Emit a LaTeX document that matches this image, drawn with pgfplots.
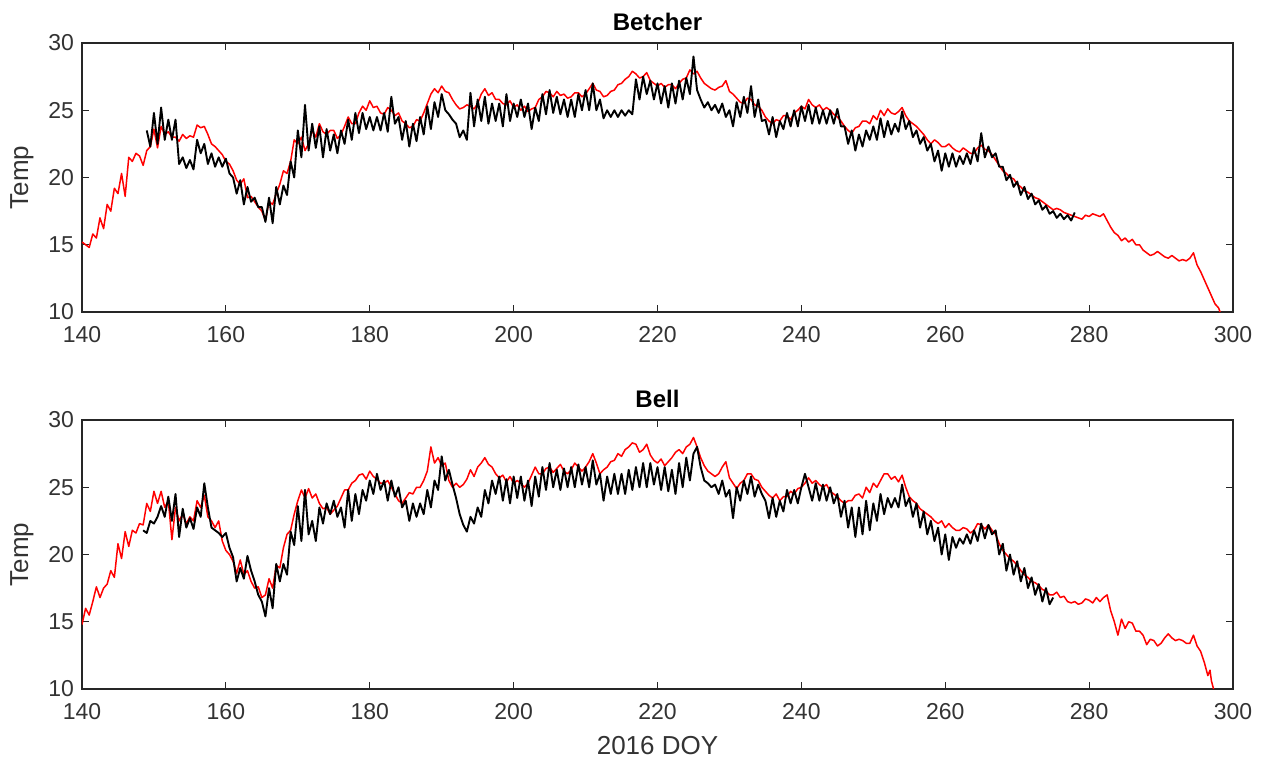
\documentclass[border=0pt]{standalone}
\usepackage{fontspec}
\setmainfont{Liberation Sans}
\usepackage{pgfplots}
\usepackage{pgfplotstable}
\pgfplotsset{compat=1.18}
\definecolor{axisgray}{HTML}{262626}
\definecolor{tickgray}{HTML}{333333}

\pgfplotstableread[row sep=\\]{
x y\\
140 15.2\\ 140.5 15.0\\ 141 14.8\\ 141.5 15.8\\ 142 15.5\\ 142.5 17.0\\ 143 16.2\\ 143.5 18.0\\ 144 17.5\\ 144.5 19.2\\
145 18.8\\ 145.5 20.3\\ 146 18.6\\ 146.5 21.5\\ 147 21.2\\ 147.5 21.8\\ 148 21.6\\ 148.5 20.9\\ 149 22.0\\ 149.5 22.3\\
150 23.6\\ 150.5 22.2\\ 151 23.8\\ 151.5 23.2\\ 152 23.4\\ 152.5 23.0\\ 153 23.0\\ 153.5 22.7\\ 154 23.2\\ 154.5 22.9\\
155 23.1\\ 155.5 23.0\\ 156 23.9\\ 156.5 23.7\\ 157 23.8\\ 157.5 23.2\\ 158 22.5\\ 158.5 22.3\\ 159 22.0\\ 159.5 21.7\\
160 21.2\\ 160.5 21.0\\ 161 20.5\\ 161.5 19.8\\ 162 19.5\\ 162.5 19.9\\ 163 18.5\\ 163.5 18.6\\ 164 18.2\\ 164.5 17.8\\
165 17.5\\ 165.5 16.8\\ 166 18.2\\ 166.5 18.0\\ 167 18.8\\ 167.5 19.5\\ 168 20.5\\ 168.5 20.3\\ 169 21.2\\ 169.5 22.8\\
170 22.5\\ 170.5 23.0\\ 171 22.0\\ 171.5 22.5\\ 172 23.5\\ 172.5 23.0\\ 173 24.0\\ 173.5 23.4\\ 174 23.2\\ 174.5 23.5\\
175 23.5\\ 175.5 22.9\\ 176 23.2\\ 176.5 23.8\\ 177 24.5\\ 177.5 24.0\\ 178 24.0\\ 178.5 24.8\\ 179 25.3\\ 179.5 25.0\\
180 25.7\\ 180.5 25.2\\ 181 25.3\\ 181.5 24.8\\ 182 24.7\\ 182.5 25.2\\ 183 25.0\\ 183.5 24.6\\ 184 24.8\\ 184.5 24.2\\
185 24.0\\ 185.5 23.7\\ 186 23.8\\ 186.5 24.3\\ 187 24.2\\ 187.5 24.8\\ 188 25.5\\ 188.5 26.2\\ 189 26.6\\ 189.5 26.3\\
190 26.8\\ 190.5 26.4\\ 191 26.3\\ 191.5 25.8\\ 192 25.4\\ 192.5 25.1\\ 193 25.2\\ 193.5 25.4\\ 194 25.3\\ 194.5 25.1\\
195 25.5\\ 195.5 26.2\\ 196 26.6\\ 196.5 26.1\\ 197 26.3\\ 197.5 25.8\\ 198 25.8\\ 198.5 25.5\\ 199 25.4\\ 199.5 25.7\\
200 25.2\\ 200.5 25.4\\ 201 25.0\\ 201.5 25.3\\ 202 24.9\\ 202.5 25.1\\ 203 25.2\\ 203.5 25.8\\ 204 26.0\\ 204.5 26.4\\
205 26.3\\ 205.5 26.0\\ 206 26.4\\ 206.5 26.1\\ 207 26.2\\ 207.5 25.9\\ 208 26.0\\ 208.5 26.3\\ 209 26.3\\ 209.5 26.0\\
210 26.2\\ 210.5 26.6\\ 211 27.0\\ 211.5 26.5\\ 212 26.4\\ 212.5 26.0\\ 213 26.1\\ 213.5 26.4\\ 214 26.5\\ 214.5 26.9\\
215 27.0\\ 215.5 27.3\\ 216 27.5\\ 216.5 27.9\\ 217 27.7\\ 217.5 27.4\\ 218 27.5\\ 218.5 27.8\\ 219 27.2\\ 219.5 27.0\\
220 26.8\\ 220.5 27.0\\ 221 26.7\\ 221.5 26.9\\ 222 26.9\\ 222.5 26.6\\ 223 27.0\\ 223.5 27.3\\ 224 27.4\\ 224.5 28.0\\
225 27.7\\ 225.5 27.9\\ 226 27.4\\ 226.5 27.0\\ 227 26.8\\ 227.5 26.6\\ 228 26.5\\ 228.5 26.7\\ 229 26.8\\ 229.5 27.2\\
230 26.4\\ 230.5 26.2\\ 231 25.9\\ 231.5 25.6\\ 232 25.5\\ 232.5 25.9\\ 233 25.8\\ 233.5 25.4\\ 234 25.3\\ 234.5 25.0\\
235 24.5\\ 235.5 24.2\\ 236 24.0\\ 236.5 24.3\\ 237 24.2\\ 237.5 24.6\\ 238 24.6\\ 238.5 24.3\\ 239 24.8\\ 239.5 25.0\\
240 25.3\\ 240.5 25.1\\ 241 25.8\\ 241.5 25.4\\ 242 25.2\\ 242.5 25.4\\ 243 25.0\\ 243.5 25.2\\ 244 25.0\\ 244.5 24.7\\
245 24.5\\ 245.5 24.2\\ 246 23.8\\ 246.5 23.5\\ 247 23.3\\ 247.5 23.7\\ 248 23.8\\ 248.5 24.2\\ 249 24.2\\ 249.5 24.0\\
250 24.6\\ 250.5 24.3\\ 251 25.0\\ 251.5 24.6\\ 252 25.1\\ 252.5 24.8\\ 253 24.7\\ 253.5 24.9\\ 254 25.2\\ 254.5 24.6\\
255 24.2\\ 255.5 24.0\\ 256 23.8\\ 256.5 23.5\\ 257 23.2\\ 257.5 22.8\\ 258 22.5\\ 258.5 22.8\\ 259 22.6\\ 259.5 22.3\\
260 22.3\\ 260.5 22.5\\ 261 22.2\\ 261.5 22.0\\ 262 21.9\\ 262.5 22.2\\ 263 22.0\\ 263.5 21.8\\ 264 21.8\\ 264.5 22.2\\
265 22.4\\ 265.5 22.1\\ 266 22.0\\ 266.5 21.7\\ 267 21.3\\ 267.5 20.9\\ 268 20.5\\ 268.5 20.3\\ 269 20.0\\ 269.5 19.9\\
270 19.5\\ 270.5 19.3\\ 271 19.0\\ 271.5 18.9\\ 272 18.7\\ 272.5 18.5\\ 273 18.4\\ 273.5 18.2\\ 274 18.0\\ 274.5 17.8\\
275 17.6\\ 275.5 17.7\\ 276 17.6\\ 276.5 17.4\\ 277 17.3\\ 277.5 17.2\\ 278 17.1\\ 278.5 17.0\\ 279 16.9\\ 279.5 17.2\\
280 17.1\\ 280.5 17.3\\ 281 17.2\\ 281.5 17.1\\ 282 17.3\\ 282.5 16.8\\ 283 16.3\\ 283.5 15.9\\ 284 15.7\\ 284.5 15.3\\
285 15.5\\ 285.5 15.2\\ 286 15.4\\ 286.5 15.0\\ 287 15.0\\ 287.5 14.6\\ 288 14.4\\ 288.5 14.2\\ 289 14.3\\ 289.5 14.5\\
290 14.3\\ 290.5 14.1\\ 291 14.0\\ 291.5 14.2\\ 292 14.0\\ 292.5 13.8\\ 293 13.9\\ 293.5 13.8\\ 294 14.0\\ 294.5 14.4\\
295 13.5\\ 295.5 13.0\\ 296 12.4\\ 296.5 11.8\\ 297 11.2\\ 297.5 10.6\\ 298 10.3\\ 298.2 10.0\\
}\betcherred

\pgfplotstableread[row sep=\\]{
x y\\
149 23.5\\ 149.5 22.3\\ 150 24.8\\ 150.5 22.5\\ 151 25.2\\ 151.5 22.8\\ 152 24.3\\ 152.5 22.8\\ 153 24.3\\ 153.5 21.0\\
154 21.5\\ 154.5 20.7\\ 155 21.3\\ 155.5 20.6\\ 156 22.8\\ 156.5 21.8\\ 157 22.5\\ 157.5 21.0\\ 158 21.8\\ 158.5 20.8\\
159 21.5\\ 159.5 20.8\\ 160 21.4\\ 160.5 20.3\\ 161 20.0\\ 161.5 18.8\\ 162 19.8\\ 162.5 18.0\\ 163 19.3\\ 163.5 18.2\\
164 18.5\\ 164.5 17.8\\ 165 17.8\\ 165.5 16.7\\ 166 18.5\\ 166.5 16.6\\ 167 19.3\\ 167.5 18.0\\ 168 19.4\\ 168.5 18.7\\
169 21.2\\ 169.5 20.0\\ 170 23.5\\ 170.5 21.5\\ 171 25.4\\ 171.5 22.0\\ 172 24.0\\ 172.5 22.2\\ 173 23.8\\ 173.5 21.5\\
174 23.6\\ 174.5 22.0\\ 175 23.2\\ 175.5 21.8\\ 176 23.5\\ 176.5 22.5\\ 177 24.3\\ 177.5 22.8\\ 178 24.8\\ 178.5 23.3\\
179 24.8\\ 179.5 23.6\\ 180 24.5\\ 180.5 23.5\\ 181 24.5\\ 181.5 23.5\\ 182 24.8\\ 182.5 23.4\\ 183 26.0\\ 183.5 24.0\\
184 24.5\\ 184.5 22.8\\ 185 24.2\\ 185.5 22.3\\ 186 24.0\\ 186.5 22.7\\ 187 24.5\\ 187.5 23.2\\ 188 25.3\\ 188.5 23.6\\
189 25.6\\ 189.5 24.5\\ 190 26.2\\ 190.5 25.0\\ 191 24.7\\ 191.5 24.3\\ 192 24.0\\ 192.5 23.0\\ 193 23.5\\ 193.5 22.8\\
194 26.3\\ 194.5 23.8\\ 195 25.8\\ 195.5 24.2\\ 196 26.0\\ 196.5 24.0\\ 197 25.5\\ 197.5 24.2\\ 198 25.5\\ 198.5 23.8\\
199 26.2\\ 199.5 24.2\\ 200 25.5\\ 200.5 24.5\\ 201 25.8\\ 201.5 24.5\\ 202 25.5\\ 202.5 23.6\\ 203 25.2\\ 203.5 24.2\\
204 26.2\\ 204.5 24.7\\ 205 26.5\\ 205.5 24.8\\ 206 26.0\\ 206.5 24.7\\ 207 25.8\\ 207.5 24.5\\ 208 25.8\\ 208.5 24.5\\
209 26.2\\ 209.5 25.0\\ 210 26.5\\ 210.5 25.0\\ 211 27.0\\ 211.5 25.0\\ 212 25.8\\ 212.5 24.4\\ 213 25.0\\ 213.5 24.5\\
214 25.0\\ 214.5 24.5\\ 215 25.0\\ 215.5 24.6\\ 216 25.0\\ 216.5 24.7\\ 217 27.3\\ 217.5 25.8\\ 218 27.5\\ 218.5 26.2\\
219 27.2\\ 219.5 25.8\\ 220 27.0\\ 220.5 25.5\\ 221 26.8\\ 221.5 25.2\\ 222 27.0\\ 222.5 25.5\\ 223 27.2\\ 223.5 25.8\\
224 27.4\\ 224.5 26.2\\ 225 29.0\\ 225.5 26.5\\ 226 25.8\\ 226.5 25.2\\ 227 25.6\\ 227.5 25.0\\ 228 25.4\\ 228.5 24.8\\
229 25.5\\ 229.5 24.5\\ 230 25.0\\ 230.5 23.8\\ 231 25.6\\ 231.5 24.5\\ 232 26.0\\ 232.5 24.8\\ 233 26.8\\ 233.5 24.5\\
234 25.8\\ 234.5 24.2\\ 235 24.3\\ 235.5 23.2\\ 236 24.5\\ 236.5 23.0\\ 237 24.2\\ 237.5 23.6\\ 238 24.8\\ 238.5 23.8\\
239 25.0\\ 239.5 23.8\\ 240 25.3\\ 240.5 24.2\\ 241 25.4\\ 241.5 24.0\\ 242 25.2\\ 242.5 24.0\\ 243 25.0\\ 243.5 24.0\\
244 25.0\\ 244.5 24.0\\ 245 25.1\\ 245.5 23.8\\ 246 23.8\\ 246.5 22.5\\ 247 23.5\\ 247.5 22.0\\ 248 23.2\\ 248.5 22.3\\
249 23.5\\ 249.5 22.8\\ 250 23.8\\ 250.5 22.8\\ 251 24.4\\ 251.5 23.0\\ 252 24.2\\ 252.5 23.2\\ 253 24.0\\ 253.5 23.4\\
254 24.9\\ 254.5 23.6\\ 255 24.2\\ 255.5 23.0\\ 256 23.5\\ 256.5 22.5\\ 257 23.0\\ 257.5 22.0\\ 258 22.5\\ 258.5 21.2\\
259 22.0\\ 259.5 20.5\\ 260 21.8\\ 260.5 20.8\\ 261 21.8\\ 261.5 20.8\\ 262 21.6\\ 262.5 21.0\\ 263 21.8\\ 263.5 21.0\\
264 22.2\\ 264.5 21.2\\ 265 23.3\\ 265.5 21.5\\ 266 22.3\\ 266.5 21.5\\ 267 21.8\\ 267.5 20.8\\ 268 20.8\\ 268.5 19.8\\
269 20.2\\ 269.5 19.3\\ 270 19.7\\ 270.5 18.7\\ 271 19.3\\ 271.5 18.4\\ 272 18.8\\ 272.5 18.0\\ 273 18.3\\ 273.5 17.6\\
274 17.9\\ 274.5 17.3\\ 275 17.5\\ 275.5 17.0\\ 276 17.3\\ 276.5 16.9\\ 277 17.2\\ 277.5 16.8\\ 278 17.4\\
}\betcherblack

\pgfplotstableread[row sep=\\]{
x y\\
140 14.8\\ 140.5 16.0\\ 141 15.5\\ 141.5 16.5\\ 142 17.6\\ 142.5 16.8\\ 143 17.5\\ 143.5 17.8\\ 144 18.8\\ 144.5 18.3\\
145 20.8\\ 145.5 19.7\\ 146 21.7\\ 146.5 20.6\\ 147 21.8\\ 147.5 21.6\\ 148 22.3\\ 148.5 22.2\\ 149 23.8\\ 149.5 23.2\\
150 24.7\\ 150.5 23.8\\ 151 24.7\\ 151.5 23.5\\ 152 24.0\\ 152.5 21.1\\ 153 23.5\\ 153.5 22.5\\ 154 23.0\\ 154.5 22.3\\
155 22.8\\ 155.5 22.5\\ 156 24.0\\ 156.5 23.5\\ 157 24.4\\ 157.5 22.8\\ 158 22.5\\ 158.5 22.0\\ 159 22.5\\ 159.5 21.0\\
160 20.3\\ 160.5 20.0\\ 161 19.5\\ 161.5 18.6\\ 162 19.6\\ 162.5 18.5\\ 163 18.8\\ 163.5 18.0\\ 164 17.5\\ 164.5 17.6\\
165 16.8\\ 165.5 17.0\\ 166 18.2\\ 166.5 17.5\\ 167 19.2\\ 167.5 19.0\\ 168 20.5\\ 168.5 21.5\\ 169 21.8\\ 169.5 23.0\\
170 24.0\\ 170.5 24.8\\ 171 24.2\\ 171.5 24.9\\ 172 24.2\\ 172.5 24.5\\ 173 23.8\\ 173.5 23.4\\ 174 23.5\\ 174.5 23.0\\
175 23.3\\ 175.5 23.6\\ 176 24.2\\ 176.5 24.8\\ 177 24.8\\ 177.5 25.3\\ 178 25.5\\ 178.5 25.9\\ 179 26.0\\ 179.5 25.6\\
180 26.2\\ 180.5 25.8\\ 181 25.6\\ 181.5 25.3\\ 182 25.3\\ 182.5 25.5\\ 183 25.0\\ 183.5 24.5\\ 184 24.0\\ 184.5 23.8\\
185 24.2\\ 185.5 24.6\\ 186 24.5\\ 186.5 25.0\\ 187 25.0\\ 187.5 25.5\\ 188 26.2\\ 188.5 28.0\\ 189 26.8\\ 189.5 27.2\\
190 26.6\\ 190.5 26.8\\ 191 25.5\\ 191.5 25.0\\ 192 25.3\\ 192.5 25.0\\ 193 25.2\\ 193.5 25.6\\ 194 26.3\\ 194.5 25.8\\
195 26.5\\ 195.5 26.8\\ 196 27.2\\ 196.5 26.7\\ 197 26.5\\ 197.5 26.0\\ 198 25.7\\ 198.5 25.9\\ 199 25.4\\ 199.5 25.8\\
200 25.3\\ 200.5 25.5\\ 201 25.3\\ 201.5 25.0\\ 202 25.3\\ 202.5 25.9\\ 203 26.5\\ 203.5 26.0\\ 204 26.0\\ 204.5 26.4\\
205 26.5\\ 205.5 26.1\\ 206 26.4\\ 206.5 26.7\\ 207 26.2\\ 207.5 26.0\\ 208 26.3\\ 208.5 26.8\\ 209 26.5\\ 209.5 26.2\\
210 26.5\\ 210.5 26.9\\ 211 27.5\\ 211.5 26.8\\ 212 26.0\\ 212.5 26.3\\ 213 26.5\\ 213.5 26.9\\ 214 27.0\\ 214.5 27.5\\
215 27.3\\ 215.5 27.8\\ 216 28.0\\ 216.5 28.3\\ 217 28.2\\ 217.5 27.6\\ 218 27.8\\ 218.5 28.2\\ 219 27.4\\ 219.5 27.0\\
220 26.8\\ 220.5 27.1\\ 221 26.6\\ 221.5 26.9\\ 222 27.2\\ 222.5 27.6\\ 223 27.8\\ 223.5 27.5\\ 224 28.0\\ 224.5 28.2\\
225 28.7\\ 225.5 28.0\\ 226 27.2\\ 226.5 26.6\\ 227 26.2\\ 227.5 26.0\\ 228 25.8\\ 228.5 26.0\\ 229 26.5\\ 229.5 26.9\\
230 25.7\\ 230.5 25.3\\ 231 24.9\\ 231.5 25.3\\ 232 25.5\\ 232.5 26.0\\ 233 26.0\\ 233.5 25.6\\ 234 25.5\\ 234.5 25.0\\
235 24.7\\ 235.5 24.4\\ 236 24.2\\ 236.5 24.5\\ 237 24.0\\ 237.5 24.3\\ 238 24.3\\ 238.5 24.7\\ 239 24.5\\ 239.5 24.9\\
240 25.0\\ 240.5 25.3\\ 241 25.7\\ 241.5 25.3\\ 242 25.5\\ 242.5 25.2\\ 243 25.0\\ 243.5 25.2\\ 244 24.7\\ 244.5 24.5\\
245 24.3\\ 245.5 24.0\\ 246 23.8\\ 246.5 24.0\\ 247 24.0\\ 247.5 24.4\\ 248 24.5\\ 248.5 24.2\\ 249 25.0\\ 249.5 24.6\\
250 25.3\\ 250.5 25.0\\ 251 25.5\\ 251.5 26.0\\ 252 26.0\\ 252.5 25.6\\ 253 25.8\\ 253.5 25.4\\ 254 25.9\\ 254.5 25.0\\
255 24.3\\ 255.5 24.0\\ 256 23.8\\ 256.5 23.4\\ 257 23.2\\ 257.5 23.0\\ 258 22.8\\ 258.5 22.5\\ 259 22.3\\ 259.5 22.5\\
260 22.0\\ 260.5 22.3\\ 261 22.0\\ 261.5 21.8\\ 262 21.8\\ 262.5 22.0\\ 263 21.9\\ 263.5 21.6\\ 264 21.8\\ 264.5 22.3\\
265 22.2\\ 265.5 21.9\\ 266 22.2\\ 266.5 21.8\\ 267 21.5\\ 267.5 20.8\\ 268 20.3\\ 268.5 20.0\\ 269 19.7\\ 269.5 19.5\\
270 19.2\\ 270.5 18.8\\ 271 18.5\\ 271.5 18.3\\ 272 18.0\\ 272.5 17.9\\ 273 17.7\\ 273.5 17.4\\ 274 17.3\\ 274.5 17.0\\
275 17.0\\ 275.5 17.2\\ 276 16.8\\ 276.5 16.9\\ 277 16.5\\ 277.5 16.4\\ 278 16.5\\ 278.5 16.3\\ 279 16.4\\ 279.5 16.7\\
280 16.6\\ 280.5 16.4\\ 281 16.8\\ 281.5 16.5\\ 282 16.8\\ 282.5 17.0\\ 283 15.8\\ 283.5 15.0\\ 284 14.0\\ 284.5 15.2\\
285 14.5\\ 285.5 15.0\\ 286 14.9\\ 286.5 14.3\\ 287 14.3\\ 287.5 14.0\\ 288 13.3\\ 288.5 13.7\\ 289 13.6\\ 289.5 13.2\\
290 13.4\\ 290.5 13.8\\ 291 14.1\\ 291.5 13.8\\ 292 13.6\\ 292.5 13.7\\ 293 13.6\\ 293.5 13.4\\ 294 13.4\\ 294.5 14.0\\
295 13.2\\ 295.5 12.8\\ 296 12.0\\ 296.5 11.0\\ 296.8 11.4\\ 297 10.6\\ 297.3 10.0\\
}\bellred

\pgfplotstableread[row sep=\\]{
x y\\
148.5 21.8\\ 149 21.6\\ 149.5 22.5\\ 150 22.3\\ 150.5 22.8\\ 151 23.6\\ 151.5 22.8\\ 152 24.3\\ 152.5 22.5\\ 153 24.5\\
153.5 21.3\\ 154 23.4\\ 154.5 22.0\\ 155 22.7\\ 155.5 21.9\\ 156 23.5\\ 156.5 22.8\\ 157 25.3\\ 157.5 23.5\\ 158 22.0\\
158.5 21.8\\ 159 21.6\\ 159.5 21.3\\ 160 21.6\\ 160.5 20.5\\ 161 19.8\\ 161.5 18.0\\ 162 19.0\\ 162.5 18.2\\ 163 19.9\\
163.5 18.8\\ 164 18.0\\ 164.5 17.0\\ 165 16.5\\ 165.5 15.4\\ 166 17.5\\ 166.5 16.0\\ 167 19.3\\ 167.5 18.0\\ 168 19.3\\
168.5 18.5\\ 169 21.7\\ 169.5 20.7\\ 170 23.6\\ 170.5 21.0\\ 171 24.8\\ 171.5 21.5\\ 172 22.5\\ 172.5 21.0\\ 173 23.5\\
173.5 22.3\\ 174 23.8\\ 174.5 23.0\\ 175 24.0\\ 175.5 22.8\\ 176 23.5\\ 176.5 22.0\\ 177 24.8\\ 177.5 22.5\\ 178 24.5\\
178.5 23.0\\ 179 24.8\\ 179.5 24.0\\ 180 25.5\\ 180.5 24.5\\ 181 26.0\\ 181.5 24.8\\ 182 25.5\\ 182.5 24.0\\ 183 25.5\\
183.5 24.3\\ 184 25.0\\ 184.5 23.5\\ 185 24.0\\ 185.5 22.5\\ 186 23.8\\ 186.5 22.8\\ 187 23.8\\ 187.5 23.0\\ 188 24.8\\
188.5 23.5\\ 189 25.5\\ 189.5 24.8\\ 190 27.3\\ 190.5 25.5\\ 191 26.3\\ 191.5 25.2\\ 192 24.2\\ 192.5 23.0\\ 193 22.2\\
193.5 21.7\\ 194 22.8\\ 194.5 22.3\\ 195 23.5\\ 195.5 22.8\\ 196 24.8\\ 196.5 23.8\\ 197 25.5\\ 197.5 24.5\\ 198 25.8\\
198.5 24.0\\ 199 25.6\\ 199.5 23.8\\ 200 25.8\\ 200.5 24.2\\ 201 25.8\\ 201.5 24.0\\ 202 25.5\\ 202.5 23.6\\ 203 25.8\\
203.5 24.3\\ 204 26.5\\ 204.5 24.8\\ 205 26.8\\ 205.5 25.0\\ 206 26.3\\ 206.5 24.8\\ 207 26.4\\ 207.5 25.0\\ 208 26.5\\
208.5 25.0\\ 209 26.7\\ 209.5 25.2\\ 210 26.5\\ 210.5 25.0\\ 211 27.0\\ 211.5 25.2\\ 212 26.0\\ 212.5 24.0\\ 213 25.8\\
213.5 24.5\\ 214 26.0\\ 214.5 24.5\\ 215 26.0\\ 215.5 24.5\\ 216 26.3\\ 216.5 24.8\\ 217 26.5\\ 217.5 25.0\\ 218 26.8\\
218.5 25.0\\ 219 26.8\\ 219.5 25.2\\ 220 26.5\\ 220.5 24.8\\ 221 26.5\\ 221.5 24.7\\ 222 26.3\\ 222.5 24.5\\ 223 26.8\\
223.5 25.0\\ 224 27.2\\ 224.5 25.5\\ 225 27.5\\ 225.5 28.0\\ 226 26.5\\ 226.5 25.5\\ 227 25.3\\ 227.5 25.0\\ 228 25.2\\
228.5 24.5\\ 229 25.5\\ 229.5 24.3\\ 230 24.8\\ 230.5 22.7\\ 231 25.0\\ 231.5 24.0\\ 232 25.5\\ 232.5 24.5\\ 233 25.8\\
233.5 24.3\\ 234 25.2\\ 234.5 24.5\\ 235 24.0\\ 235.5 22.7\\ 236 24.2\\ 236.5 22.8\\ 237 24.0\\ 237.5 23.2\\ 238 24.8\\
238.5 23.8\\ 239 24.8\\ 239.5 23.8\\ 240 25.0\\ 240.5 26.0\\ 241 25.0\\ 241.5 24.0\\ 242 25.3\\ 242.5 24.0\\ 243 25.2\\
243.5 24.0\\ 244 25.0\\ 244.5 23.8\\ 245 24.5\\ 245.5 22.8\\ 246 24.0\\ 246.5 22.0\\ 247 23.5\\ 247.5 21.3\\ 248 23.5\\
248.5 21.5\\ 249 24.0\\ 249.5 21.8\\ 250 23.8\\ 250.5 22.5\\ 251 24.5\\ 251.5 23.0\\ 252 24.2\\ 252.5 23.5\\ 253 24.2\\
253.5 23.5\\ 254 25.2\\ 254.5 23.6\\ 255 24.2\\ 255.5 22.8\\ 256 23.8\\ 256.5 22.0\\ 257 23.2\\ 257.5 21.5\\ 258 22.5\\
258.5 21.0\\ 259 22.0\\ 259.5 20.0\\ 260 21.5\\ 260.5 19.6\\ 261 21.3\\ 261.5 20.5\\ 262 21.2\\ 262.5 20.8\\ 263 21.5\\
263.5 20.8\\ 264 21.8\\ 264.5 21.0\\ 265 22.3\\ 265.5 21.2\\ 266 22.2\\ 266.5 21.5\\ 267 21.8\\ 267.5 20.0\\ 268 20.8\\
268.5 18.8\\ 269 20.0\\ 269.5 18.5\\ 270 19.5\\ 270.5 18.0\\ 271 19.0\\ 271.5 17.5\\ 272 18.3\\ 272.5 17.0\\ 273 17.8\\
273.5 16.5\\ 274 17.5\\ 274.5 16.3\\ 275 16.8\\
}\bellblack

\pgfplotsset{
  tempaxis/.style={
    scale only axis, width=575.5pt, height=134.5pt,
    xmin=140, xmax=300, ymin=10, ymax=30,
    xtick={140,160,...,300}, ytick={10,15,...,30},
    tick align=inside, major tick length=3.5pt,
    axis line style={color=axisgray, line width=0.6pt},
    every tick/.style={color=axisgray, line width=0.6pt},
    /pgf/number format/assume math mode=true,
    /pgf/number format/1000 sep={},
    ticklabel style={font=\fontsize{11.5}{13}\selectfont, text=tickgray},
    xticklabel style={yshift=-3.5pt},
    yticklabel style={xshift=-0.5pt},
    ylabel={Temp},
    every axis y label/.style={at={(axis description cs:0,0.5)}, rotate=90, anchor=center, yshift=30pt, font=\fontsize{13}{15}\selectfont, text=tickgray},
    title style={font=\bfseries\fontsize{12}{14}\selectfont, yshift=-3.5pt},
  },
  red line/.style={color=red, line width=0.75pt, line join=round},
  black line/.style={color=black, line width=0.95pt, line join=round},
}

\begin{document}
\begin{tikzpicture}
\useasboundingbox (-41pt,21.5pt) rectangle (592.5pt,-359pt);
\begin{axis}[tempaxis, at={(0,0)}, anchor=north west, title={Betcher}]
  \addplot[red line] table[x=x,y=y] {\betcherred};
  \addplot[black line] table[x=x,y=y] {\betcherblack};
\end{axis}
\begin{axis}[tempaxis, at={(0,-188.5pt)}, anchor=north west, title={Bell},
  xlabel={2016 DOY},
  every axis x label/.style={at={(axis description cs:0.5,0)}, anchor=center, yshift=-28.5pt, font=\fontsize{13}{15}\selectfont, text=tickgray}]
  \addplot[red line] table[x=x,y=y] {\bellred};
  \addplot[black line] table[x=x,y=y] {\bellblack};
\end{axis}
\end{tikzpicture}
\end{document}
